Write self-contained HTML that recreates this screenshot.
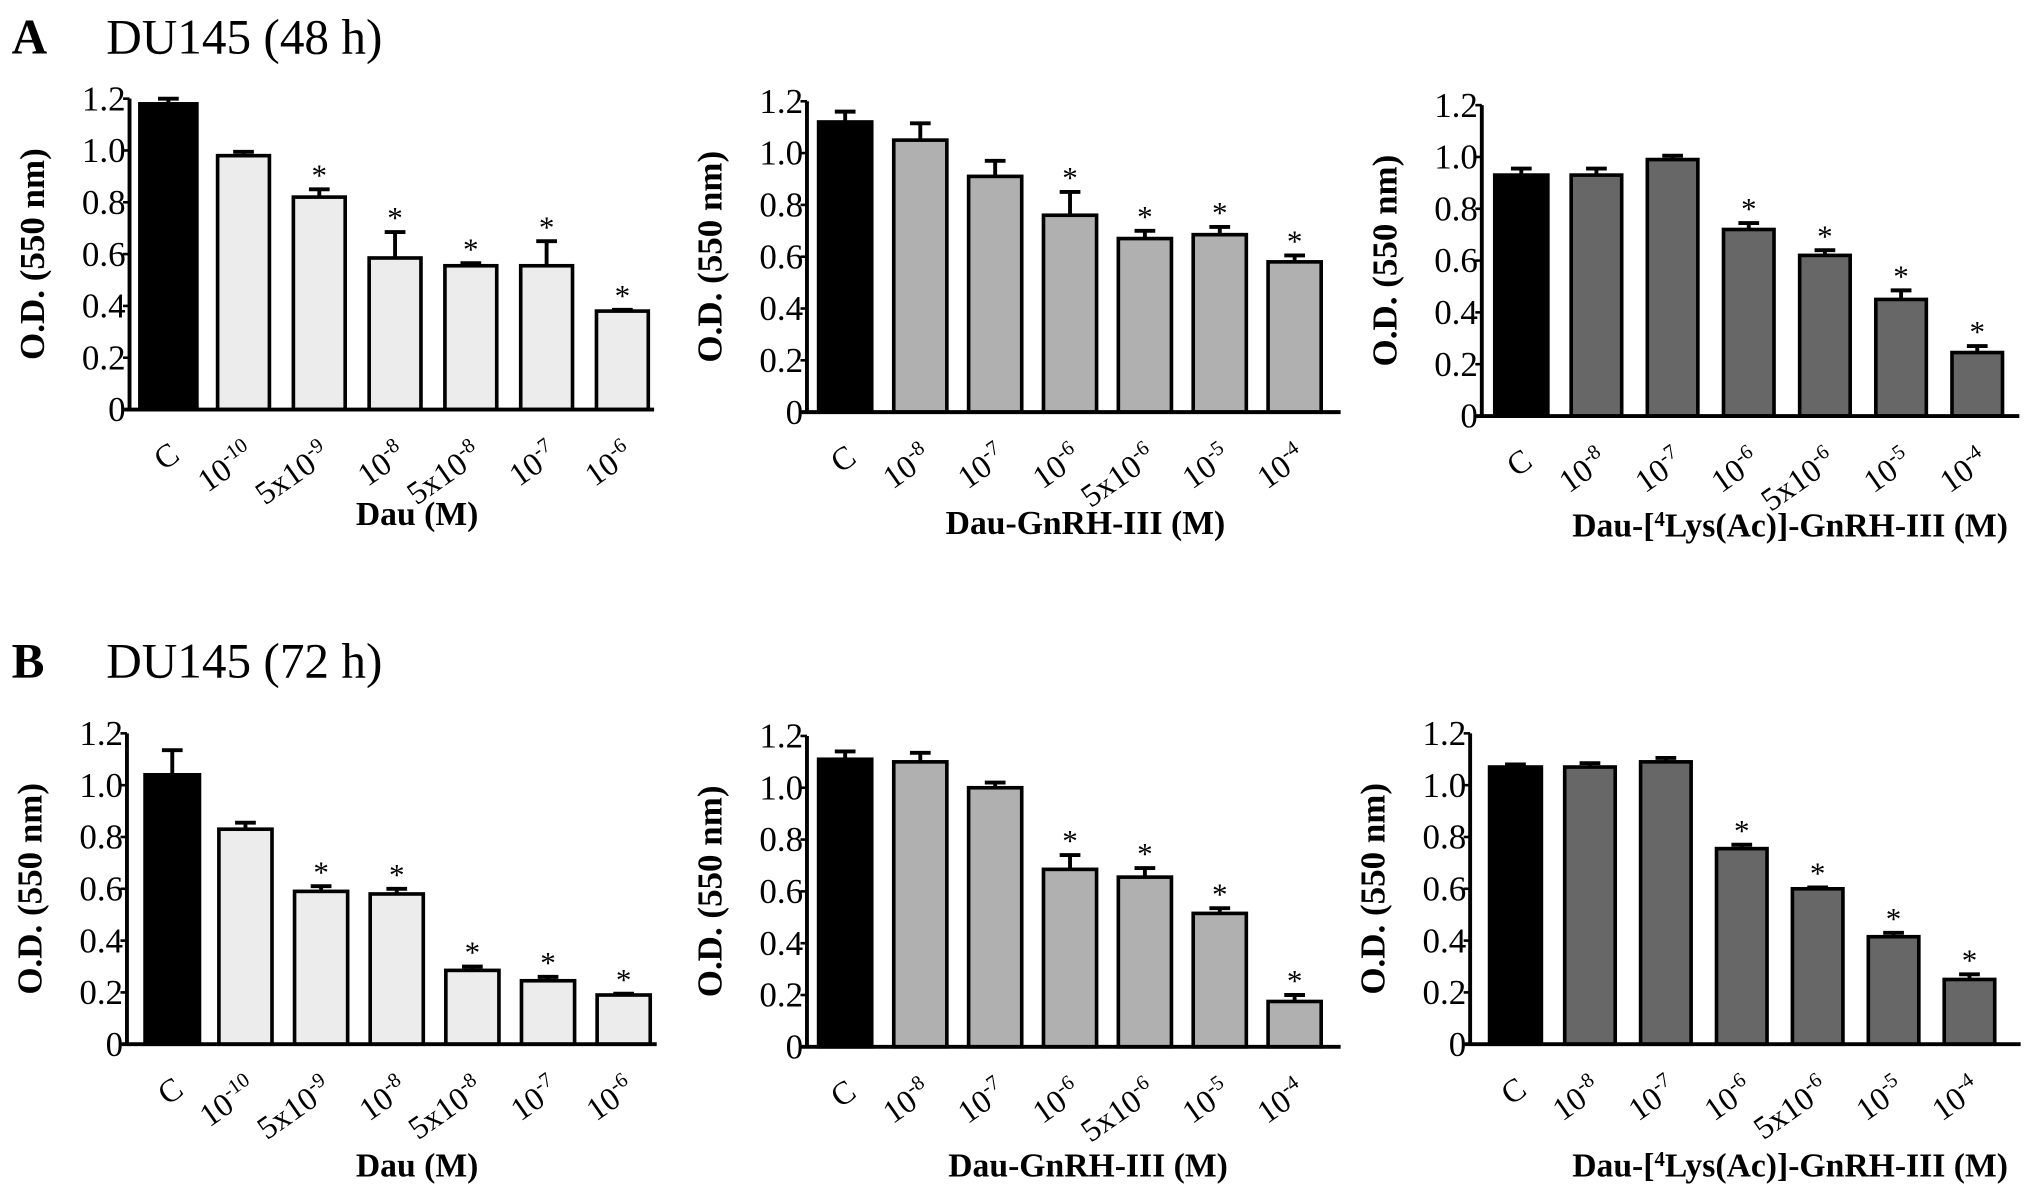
<!DOCTYPE html>
<html><head><meta charset="utf-8"><style>
html,body{margin:0;padding:0;background:#fff;}
svg{display:block;}
text{font-family:"Liberation Serif",serif;fill:#000;}
</style></head><body>
<svg id="fig" width="2031" height="1196" viewBox="0 0 1568 923" xmlns="http://www.w3.org/2000/svg">
<text x="9" y="41" font-size="38" font-weight="bold">A</text>
<text x="82" y="41" font-size="38">DU145 (48 h)</text>
<text x="9" y="523" font-size="38" font-weight="bold">B</text>
<text x="82" y="523" font-size="38">DU145 (72 h)</text>
</svg>
<script>
// Categories
const catsDau = [["C",""],["10","-10"],["5x10","-9"],["10","-8"],["5x10","-8"],["10","-7"],["10","-6"]];
const catsGn = [["C",""],["10","-8"],["10","-7"],["10","-6"],["5x10","-6"],["10","-5"],["10","-4"]];
const yTicks = ["0","0.2","0.4","0.6","0.8","1.0","1.2"];
// Values (O.D.) and upper error bar tops
const a1Vals = [1.18,0.98,0.82,0.585,0.555,0.555,0.38];
const a1Errs = [1.20,0.995,0.85,0.685,0.565,0.65,0.385];
const a1Star = [0,0,1,1,1,1,1];
const a2Vals = [1.12,1.05,0.91,0.76,0.67,0.685,0.58];
const a2Errs = [1.16,1.115,0.97,0.85,0.70,0.715,0.605];
const a2Star = [0,0,0,1,1,1,1];
const a3Vals = [0.93,0.93,0.99,0.72,0.62,0.45,0.245];
const a3Errs = [0.955,0.955,1.005,0.745,0.64,0.485,0.27];
const a3Star = [0,0,0,1,1,1,1];
const b1Vals = [1.04,0.83,0.59,0.58,0.285,0.245,0.19];
const b1Errs = [1.135,0.855,0.61,0.60,0.30,0.26,0.195];
const b1Star = [0,0,1,1,1,1,1];
const b2Vals = [1.11,1.10,1.00,0.685,0.655,0.515,0.175];
const b2Errs = [1.14,1.135,1.02,0.74,0.69,0.535,0.20];
const b2Star = [0,0,0,1,1,1,1];
const b3Vals = [1.07,1.07,1.09,0.755,0.60,0.415,0.25];
const b3Errs = [1.08,1.085,1.105,0.77,0.605,0.43,0.27];
const b3Star = [0,0,0,1,1,1,1];

const NS="http://www.w3.org/2000/svg";
const svg=document.getElementById('fig');
function mk(tag,attrs,parent){const e=document.createElementNS(NS,tag);for(const k in attrs)e.setAttribute(k,attrs[k]);(parent||svg).appendChild(e);return e;}

function panel(id,o,cats,vals,errs,stars,fill,xtitle){
  const g=mk('g',{});
  
  
  const y=v=>o.y0-(v/1.2)*(o.y0-o.y12);
  const xc=i=> i===0 ? (o.cL+o.cR)/2 : o.b1+(i-1)*o.sp+o.bw/2;
  vals.forEach((v,i)=>{
    const w=i===0?(o.cR-o.cL):o.bw;
    const x=xc(i)-w/2;
    const r=mk('rect',{x:x,y:y(v),width:w,height:o.y0-y(v),fill:i===0?'#000':fill,stroke:'#000','stroke-width':2.8},g);
    
    
    const ey=y(errs[i]);
    const el=mk('path',{d:`M${xc(i)} ${y(v)} V${ey} M${xc(i)-8} ${ey} H${xc(i)+8}`,stroke:'#000','stroke-width':3,fill:'none'},g);
    
    
    if(stars[i]){
      const s=mk('text',{x:xc(i),y:ey-3,'font-size':24,'text-anchor':'middle'},g);
      s.textContent='*';
      
      
    }
    const tx=xc(i)+10, ty=o.y0+38;
    const t=mk('text',{x:0,y:0,'font-size':25,'text-anchor':'end',transform:`translate(${tx},${ty}) rotate(-35)`},g);
    
    
    const t1=mk('tspan',{},t);t1.textContent=cats[i][0];
    if(cats[i][1]){const t2=mk('tspan',{dy:-10,'font-size':16},t);t2.textContent=cats[i][1];}
  });
  const ax=mk('path',{d:`M${o.ax} ${o.y12} V${o.y0} M${o.ax-4} ${o.y0} H${o.end}`,stroke:'#000','stroke-width':3,fill:'none'},g);
  
  
  yTicks.forEach((t,k)=>{
    const v=k*0.2, yy=y(v);
    mk('line',{x1:o.ax-5,x2:o.ax,y1:yy,y2:yy,stroke:'#000','stroke-width':2},g);
    const tl=mk('text',{x:o.ax-3,y:yy+9,'font-size':27,'text-anchor':'end'},g);
    tl.textContent=t;
    
    
  });
  const yt=mk('text',{x:0,y:0,'font-size':27,'font-weight':'bold','text-anchor':'middle',transform:`translate(${o.ax-66},${(o.y0+o.y12)/2}) rotate(-90)`},g);
  yt.textContent='O.D. (550 nm)';
  
  
  const xt=mk('text',{x:o.xtx,y:o.xty,'font-size':26,'font-weight':'bold','text-anchor':'middle'},g);
  
  
  if(xtitle==='lys'){
    mk('tspan',{},xt).textContent='Dau-[';
    mk('tspan',{dy:-8,'font-size':16},xt).textContent='4';
    mk('tspan',{dy:8},xt).textContent='Lys(Ac)]-GnRH-III (M)';
  } else xt.textContent=xtitle;
}
const light='#ececec', mid='#b0b0b0', dark='#676767';
panel('chart-a-dau',{ax:100,y0:316,y12:76,cL:108,cR:152,b1:168,sp:58.5,bw:40,end:505,xtx:322,xty:405},catsDau,a1Vals,a1Errs,a1Star,light,'Dau (M)');
panel('chart-a-gnrh',{ax:623,y0:318,y12:78,cL:632,cR:673,b1:690,sp:57.8,bw:41,end:1035,xtx:838,xty:412},catsGn,a2Vals,a2Errs,a2Star,mid,'Dau-GnRH-III (M)');
panel('chart-a-lys',{ax:1144,y0:321,y12:81,cL:1154,cR:1195,b1:1213,sp:58.8,bw:39,end:1559,xtx:1382,xty:414},catsGn,a3Vals,a3Errs,a3Star,dark,'lys');
panel('chart-b-dau',{ax:98,y0:806,y12:566,cL:112,cR:154,b1:169,sp:58.4,bw:41,end:507,xtx:322,xty:908},catsDau,b1Vals,b1Errs,b1Star,light,'Dau (M)');
panel('chart-b-gnrh',{ax:623,y0:808,y12:568,cL:632,cR:673,b1:690,sp:57.8,bw:41,end:1035,xtx:840,xty:908},catsGn,b2Vals,b2Errs,b2Star,mid,'Dau-GnRH-III (M)');
panel('chart-b-lys',{ax:1135,y0:806,y12:566,cL:1150,cR:1190,b1:1208,sp:58.6,bw:39,end:1560,xtx:1382,xty:908},catsGn,b3Vals,b3Errs,b3Star,dark,'lys');
</script>
</body></html>
